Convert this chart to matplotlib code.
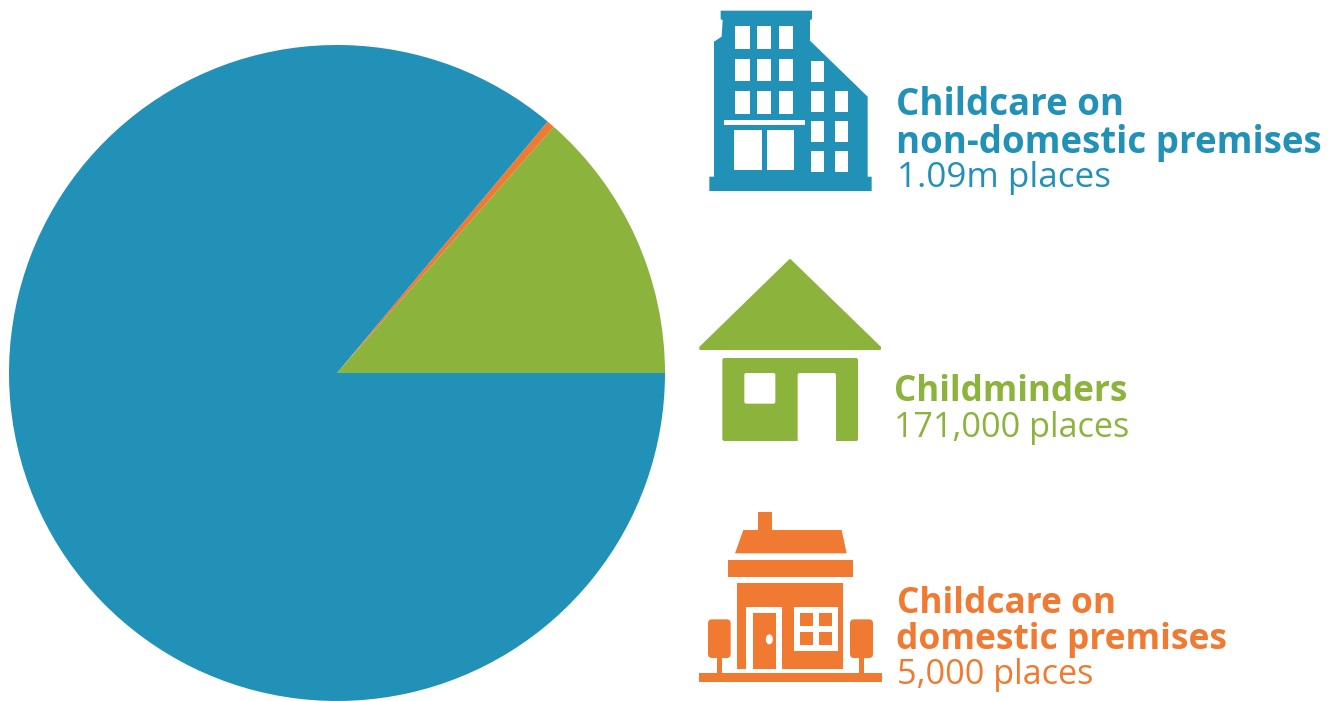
import matplotlib
matplotlib.use('Agg')
import matplotlib.pyplot as plt
from matplotlib.patches import Polygon, Rectangle, Ellipse, FancyBboxPatch

# places by provider type
categories = ['Childminders', 'Childcare on domestic premises', 'Childcare on non-domestic premises']
places = [171000, 5000, 1090000]
place_labels = ['171,000 places', '5,000 places', '1.09m places']

BLUE = '#2191B8'
GREEN = '#8CB33C'
ORANGE = '#F07A31'
colors = [GREEN, ORANGE, BLUE]

W, H = 1339, 701
fig = plt.figure(figsize=(W / 100, H / 100), dpi=100, facecolor='white')

# pie: centre 337,373 radius 328 in pixels
ax_pie = fig.add_axes([(337 - 328) / W, (H - 373 - 328) / H, 656 / W, 656 / H])
ax_pie.pie(places, colors=colors, startangle=0, counterclock=True, radius=1.0,
           wedgeprops={'linewidth': 0})
ax_pie.set_xlim(-1, 1)
ax_pie.set_ylim(-1, 1)

# overlay in pixel coords for icons and text
ax = fig.add_axes([0, 0, 1, 1], facecolor='none')
ax.set_xlim(0, W)
ax.set_ylim(H, 0)
ax.axis('off')


def rect(ox, oy, x0, y0, x1, y1, color):
    ax.add_patch(Rectangle((ox + x0 / 3, oy + y0 / 3), (x1 - x0) / 3, (y1 - y0) / 3,
                           fc=color, ec='none'))


def poly(ox, oy, pts, color, lw=0):
    pts = [(ox + x / 3, oy + y / 3) for x, y in pts]
    ax.add_patch(Polygon(pts, closed=True, fc=color, ec=color if lw else 'none',
                         lw=lw, joinstyle='round'))


def rounded(ox, oy, x0, y0, x1, y1, r, color):
    ax.add_patch(FancyBboxPatch((ox + x0 / 3 + r, oy + y0 / 3 + r),
                                (x1 - x0) / 3 - 2 * r, (y1 - y0) / 3 - 2 * r,
                                boxstyle='round,pad=%f' % r, fc=color, ec='none'))


# office block
ox, oy = 690, 0
poly(ox, oy, [(92, 32), (366, 32), (366, 58), (360, 60), (360, 122), (533, 290), (533, 530),
              (545, 530), (545, 573), (58, 573), (58, 530), (72, 530), (72, 125),
              (95, 110), (98, 60), (92, 58)], BLUE)
for y0, y1 in [(78, 146), (176, 244), (274, 342)]:
    for x0, x1 in [(136, 180), (201, 244), (267, 310)]:
        rect(ox, oy, x0, y0, x1, y1, 'white')
for x0, y0, x1, y1 in [(362, 183, 403, 247), (362, 273, 403, 337), (434, 273, 474, 337),
                       (362, 362, 403, 426), (434, 362, 474, 426),
                       (362, 452, 403, 516), (434, 452, 474, 516),
                       (102, 361, 344, 375), (133, 391, 216, 511), (230, 391, 312, 511)]:
    rect(ox, oy, x0, y0, x1, y1, 'white')

# childminder house
ox, oy = 690, 250
poly(ox, oy, [(300, 30), (570, 292), (570, 297), (31, 297), (31, 292)], GREEN, lw=1.5)
rounded(ox, oy, 97, 324, 504, 573, 2, GREEN)
rounded(ox, oy, 163, 369, 256, 461, 2, 'white')
rounded(ox, oy, 323, 369, 438, 590, 2, 'white')
rect(ox, oy, 323, 574, 438, 595, 'white')

# domestic premises house
ox, oy = 690, 500
rect(ox, oy, 205, 37, 247, 95, ORANGE)
poly(ox, oy, [(160, 90), (455, 90), (470, 160), (135, 160)], ORANGE)
rect(ox, oy, 114, 180, 488, 232, ORANGE)
rect(ox, oy, 142, 250, 460, 506, ORANGE)
rect(ox, oy, 168, 322, 275, 506, 'white')
rect(ox, oy, 188, 340, 257, 506, ORANGE)
ax.add_patch(Ellipse((ox + 238 / 3, oy + 418 / 3), 7, 10, fc='white', ec='none'))
rect(ox, oy, 311, 322, 443, 454, 'white')
for x0, x1 in [(329, 368), (387, 426)]:
    for y0, y1 in [(340, 378), (397, 436)]:
        rect(ox, oy, x0, y0, x1, y1, ORANGE)
for x0, x1, tx0, tx1 in [(54, 122, 82, 95), (480, 549, 508, 521)]:
    rounded(ox, oy, x0, 358, x1, 474, 4, ORANGE)
    rect(ox, oy, tx0, 470, tx1, 522, ORANGE)
rect(ox, oy, 28, 520, 575, 546, ORANGE)

# labels, sizes set line by line to match the widths
FONT = 'Open Sans'


def label(x, y, s, color, size, bold=True):
    ax.text(x, y, s, color=color, family=FONT, fontsize=size,
            fontweight='bold' if bold else 'normal', ha='left', va='baseline')


label(896, 115, 'Childcare on', BLUE, 26.4)
label(896, 153, 'non-domestic premises', BLUE, 26.4)
label(897, 187, place_labels[2], BLUE, 25.2, bold=False)
label(894, 401, categories[0], GREEN, 25.2)
label(894, 437, place_labels[0], GREEN, 24.7, bold=False)
label(897, 613, 'Childcare on', ORANGE, 25.4)
label(896, 649, 'domestic premises', ORANGE, 25.5)
label(897, 684, place_labels[1], ORANGE, 24.7, bold=False)

fig.savefig('out.png', dpi=100, facecolor='white')
